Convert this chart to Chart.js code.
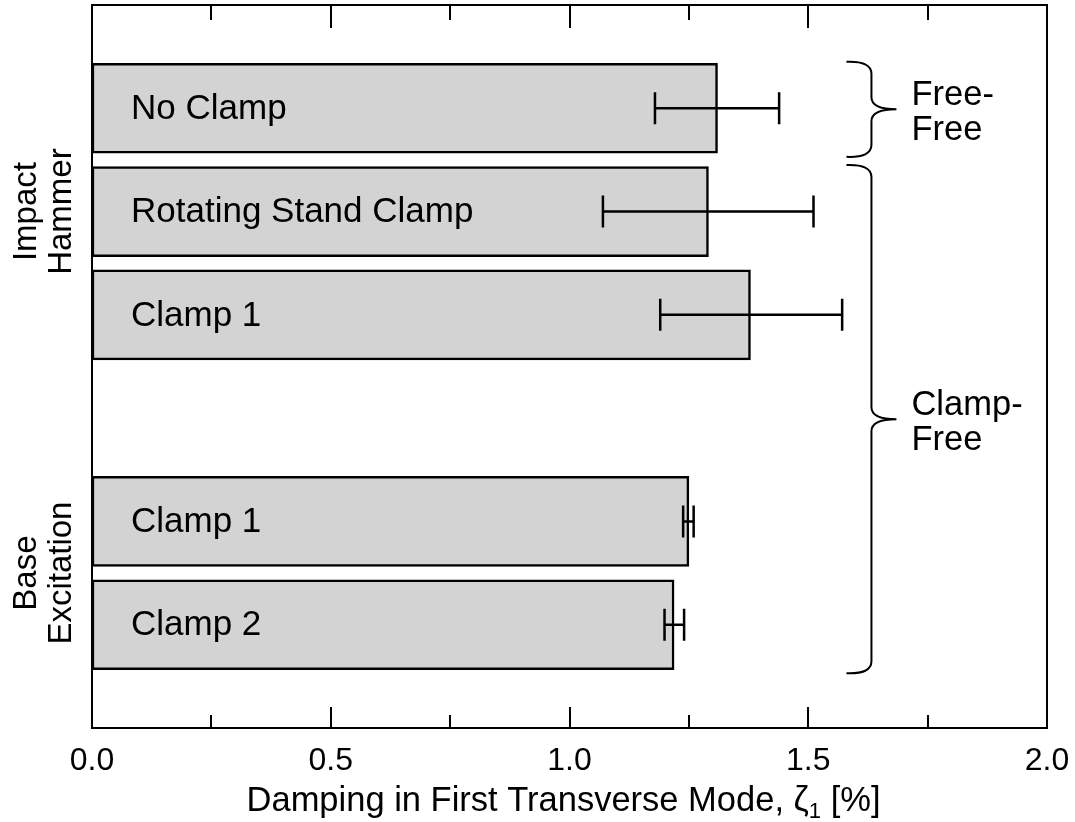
<!DOCTYPE html>
<html>
<head>
<meta charset="utf-8">
<script src="https://cdn.jsdelivr.net/npm/chart.js@4.4.1/dist/chart.umd.min.js"></script>
<style>
  body { margin: 0; background: #fff; }
</style>
</head>
<body>
<canvas id="damping" width="1075" height="822"></canvas>
<script>
// rows top to bottom, blank rows leave room between groups
const rowNames = ['', 'No Clamp', 'Rotating Stand Clamp', 'Clamp 1', '', 'Clamp 1', 'Clamp 2', ''];
const dampMean = [null, 1.310, 1.291, 1.379, null, 1.250, 1.219, null];
const dampLow  = [null, 1.179, 1.070, 1.190, null, 1.238, 1.199, null];
const dampHigh = [null, 1.439, 1.511, 1.571, null, 1.260, 1.240, null];
const xTicks = [0, 0.5, 1.0, 1.5, 2.0];

// excitation method groups (left side)
const methodNames = [['Impact', 'Hammer'], ['Base', 'Excitation']];
const methodFrom = [1, 5];
const methodTo = [3, 6];

// boundary condition groups (right side braces)
const bcNames = [['Free-', 'Free'], ['Clamp-', 'Free']];
const bcFrom = [1, 2];
const bcTo = [1, 6];

const FONT = "'Liberation Sans', Arial, Helvetica, sans-serif";
Chart.defaults.font.family = FONT;
Chart.defaults.color = '#000';

const extras = {
  id: 'extras',
  afterDatasetsDraw(chart) {
    const c = chart.ctx;
    const xs = chart.scales.x, ys = chart.scales.y;
    const a = chart.chartArea;
    c.save();
    c.fillStyle = '#000';
    c.strokeStyle = '#000';

    // names inside the bars
    c.font = '35px ' + FONT;
    c.textAlign = 'left';
    c.textBaseline = 'middle';
    rowNames.forEach((n, i) => {
      if (dampMean[i] == null) return;
      c.fillText(n, a.left + 39, ys.getPixelForValue(i) + 1);
    });

    // error bars
    c.lineWidth = 2.5;
    dampMean.forEach((v, i) => {
      if (v == null) return;
      const y = ys.getPixelForValue(i);
      const x1 = xs.getPixelForValue(dampLow[i]);
      const x2 = xs.getPixelForValue(dampHigh[i]);
      c.beginPath();
      c.moveTo(x1, y); c.lineTo(x2, y);
      c.moveTo(x1, y - 16); c.lineTo(x1, y + 16);
      c.moveTo(x2, y - 16); c.lineTo(x2, y + 16);
      c.stroke();
    });

    // frame and inward ticks on top and bottom
    c.lineWidth = 2;
    c.strokeRect(a.left, a.top, a.right - a.left, a.bottom - a.top);
    c.beginPath();
    for (let t = 0.25; t < 2; t += 0.25) {
      const x = Math.round(xs.getPixelForValue(t));
      const len = (Math.abs(t * 2 - Math.round(t * 2)) < 1e-6) ? 21 : 13;
      c.moveTo(x, a.bottom); c.lineTo(x, a.bottom - len);
      c.moveTo(x, a.top); c.lineTo(x, a.top + len + 2);
    }
    c.stroke();

    // braces with boundary condition labels
    const bx0 = xs.getPixelForValue(1.58);
    const bxm = bx0 + 25, bxt = bx0 + 50;
    c.lineWidth = 2;
    bcNames.forEach((lines, k) => {
      const top = ys.getPixelForValue(bcFrom[k] - 0.45);
      const bot = ys.getPixelForValue(bcTo[k] + 0.47);
      const mid = (top + bot) / 2;
      const r = 12;
      c.beginPath();
      c.moveTo(bx0, top);
      c.quadraticCurveTo(bxm, top - 1, bxm, top + r);
      c.lineTo(bxm, mid - r);
      c.quadraticCurveTo(bxm, mid, bxt, mid);
      c.quadraticCurveTo(bxm, mid, bxm, mid + r);
      c.lineTo(bxm, bot - r);
      c.quadraticCurveTo(bxm, bot + 1, bx0, bot);
      c.stroke();
      c.font = '34.5px ' + FONT;
      c.textAlign = 'left';
      c.textBaseline = 'alphabetic';
      c.fillText(lines[0], bxt + 15, mid - 4);
      c.fillText(lines[1], bxt + 15, mid + 31);
    });

    // excitation method labels, rotated
    methodNames.forEach((lines, k) => {
      const yc = (ys.getPixelForValue(methodFrom[k]) + ys.getPixelForValue(methodTo[k])) / 2;
      c.save();
      c.translate(0, yc);
      c.rotate(-Math.PI / 2);
      c.font = '33px ' + FONT;
      c.textAlign = 'center';
      c.textBaseline = 'alphabetic';
      c.fillText(lines[0], 0, 36);
      c.fillText(lines[1], 0, 71);
      c.restore();
    });

    // x axis title with subscript
    const parts = ['Damping in First Transverse Mode, \u03B6', '1', ' [%]'];
    c.textAlign = 'left';
    c.textBaseline = 'alphabetic';
    c.font = '34.5px ' + FONT;
    const w0 = c.measureText(parts[0]).width;
    const w2 = c.measureText(parts[2]).width;
    c.font = '22px ' + FONT;
    const w1 = c.measureText(parts[1]).width;
    let x = (a.left + a.right) / 2 - (w0 + w1 + w2) / 2 - 6;
    const base = 811;
    c.font = '34.5px ' + FONT;
    c.fillText(parts[0], x, base);
    x += w0;
    c.font = '22px ' + FONT;
    c.fillText(parts[1], x, base + 7);
    x += w1;
    c.font = '34.5px ' + FONT;
    c.fillText(parts[2], x, base);

    c.restore();
  }
};

new Chart(document.getElementById('damping').getContext('2d'), {
  type: 'bar',
  data: {
    labels: rowNames,
    datasets: [{
      data: dampMean,
      backgroundColor: '#d3d3d3',
      borderColor: '#000',
      borderWidth: 2.5,
      borderSkipped: false,
      barThickness: 90
    }]
  },
  options: {
    indexAxis: 'y',
    responsive: false,
    animation: false,
    layout: { padding: { top: 5, left: 92, right: 28, bottom: 0 } },
    plugins: {
      legend: { display: false },
      tooltip: { enabled: false }
    },
    scales: {
      x: {
        min: 0,
        max: 2,
        afterBuildTicks: (s) => { s.ticks = xTicks.map(v => ({ value: v })); },
        ticks: {
          font: { size: 32 },
          color: '#000',
          padding: 6,
          maxRotation: 0,
          callback: (v) => Number(v).toFixed(1)
        },
        grid: { display: false },
        border: { display: false },
        afterFit: (s) => {
          s.height = 94;
          s.paddingLeft = 0;
          s.paddingRight = 0;
        }
      },
      y: {
        display: false,
        offset: false
      }
    }
  },
  plugins: [extras]
});
</script>
</body>
</html>
